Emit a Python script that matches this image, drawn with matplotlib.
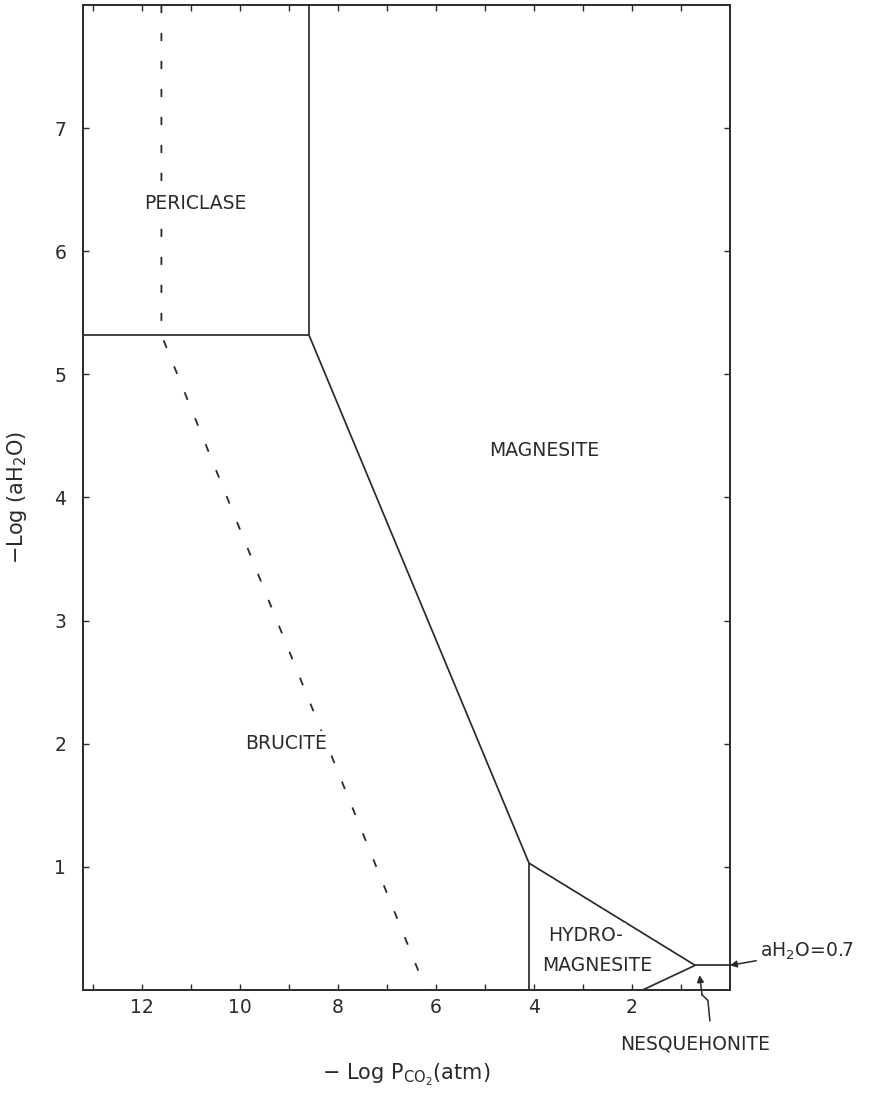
import matplotlib

matplotlib.use("Agg")
import matplotlib.pyplot as plt

plt.rcParams["font.family"] = ["DejaVu Sans"]
plt.rcParams["mathtext.default"] = "regular"

INK = "#2a2a2a"
LABEL_SIZE = 13.5
TICK_SIZE = 13.5

# axis ranges (-log pCO2 runs right to left)
X_RANGE = (13.2, 0.0)
Y_RANGE = (0.0, 8.0)
x_major = [12, 10, 8, 6, 4, 2]
x_minor = [13, 11, 9, 7, 5, 3, 1]
y_major = [1, 2, 3, 4, 5, 6, 7]

# phase boundaries
periclase_brucite_x = [13.2, 8.59]
periclase_brucite_y = [5.32, 5.32]
periclase_magnesite_x = [8.59, 8.59]
periclase_magnesite_y = [5.32, 8.0]
brucite_magnesite_x = [8.59, 4.1]
brucite_magnesite_y = [5.32, 1.03]
brucite_hydromag_x = [4.1, 4.1]
brucite_hydromag_y = [1.03, 0.0]
hydromag_magnesite_x = [4.1, 0.71]
hydromag_magnesite_y = [1.03, 0.2]
nesq_magnesite_x = [0.71, 0.0]
nesq_magnesite_y = [0.2, 0.2]
hydromag_nesq_x = [0.71, 1.78]
hydromag_nesq_y = [0.2, 0.0]

# metastable (dashed) boundary
dashed_x = [11.6, 11.6, 6.2]
dashed_y = [8.0, 5.32, 0.0]

solid_lines = [
    (periclase_brucite_x, periclase_brucite_y),
    (periclase_magnesite_x, periclase_magnesite_y),
    (brucite_magnesite_x, brucite_magnesite_y),
    (brucite_hydromag_x, brucite_hydromag_y),
    (hydromag_magnesite_x, hydromag_magnesite_y),
    (nesq_magnesite_x, nesq_magnesite_y),
    (hydromag_nesq_x, hydromag_nesq_y),
]

# field labels: (text, x, y)
field_labels = [
    ("PERICLASE", 10.9, 6.39),
    ("MAGNESITE", 3.8, 4.38),
    ("BRUCITE", 9.06, 2.0),
    ("HYDRO-", 2.94, 0.44),
    ("MAGNESITE", 2.71, 0.2),
]

fig = plt.figure(figsize=(8.69, 11.04), dpi=100)
ax = fig.add_axes([0.0955, 0.1033, 0.7445, 0.8922])

for xs, ys in solid_lines:
    ax.plot(xs, ys, color=INK, linewidth=1.25, solid_capstyle="butt", zorder=2)
ax.plot(dashed_x, dashed_y, color=INK, linewidth=1.3, dashes=(4.5, 11), zorder=1)

for text, x, y in field_labels:
    ax.text(x, y, text, ha="center", va="center", fontsize=LABEL_SIZE, color=INK,
            zorder=3,
            bbox=dict(facecolor="white", edgecolor="none", pad=2.0))

# aH2O = 0.7 callout on the right edge
ax.annotate(
    r"aH$_2$O=0.7",
    xy=(0.0, 0.2),
    xytext=(-0.62, 0.31),
    ha="left",
    va="center",
    fontsize=LABEL_SIZE,
    color=INK,
    annotation_clip=False,
    arrowprops=dict(arrowstyle="-|>", color=INK, lw=1.1, shrinkA=1, shrinkB=0,
                    mutation_scale=10),
)

# Nesquehonite callout with a kinked arrow
ax.plot([0.41, 0.45, 0.57], [-0.25, -0.085, -0.04], color=INK, linewidth=1.1,
        clip_on=False)
ax.annotate(
    "",
    xy=(0.62, 0.12),
    xytext=(0.57, -0.04),
    annotation_clip=False,
    arrowprops=dict(arrowstyle="-|>", color=INK, lw=1.1, shrinkA=0, shrinkB=0,
                    mutation_scale=10),
)
ax.text(0.71, -0.44, "NESQUEHONITE", ha="center", va="center",
        fontsize=LABEL_SIZE, color=INK, clip_on=False)

ax.set_xlim(*X_RANGE)
ax.set_ylim(*Y_RANGE)
ax.set_xticks(x_major)
ax.set_xticks(x_minor, minor=True)
ax.set_yticks(y_major)
ax.tick_params(axis="both", which="both", direction="in", top=True, right=True,
               length=4, width=1.0, color=INK, labelsize=TICK_SIZE,
               labelcolor=INK)
ax.tick_params(axis="x", pad=6)
ax.tick_params(axis="y", pad=12)
for spine in ax.spines.values():
    spine.set_color(INK)
    spine.set_linewidth(1.4)

ax.set_xlabel(r"$-$ Log P$_{CO_2}$(atm)", fontsize=15, color=INK,
              labelpad=32)
ax.set_ylabel(r"$-$Log (aH$_2$O)", fontsize=15, color=INK, labelpad=18)

fig.savefig("out.png", dpi=100, facecolor="white")
plt.close(fig)
